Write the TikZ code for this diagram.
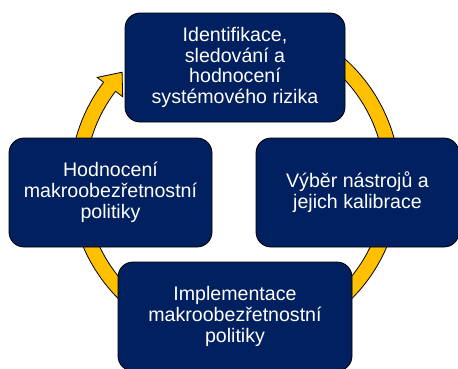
\documentclass[tikz,border=0pt]{standalone}
\usepackage{fontspec}
\setmainfont{Liberation Sans}
\definecolor{navy}{HTML}{002060}
\definecolor{gold}{HTML}{FFC000}
\begin{document}
\begin{tikzpicture}[x=1pt, y=1pt,
		stepbox/.style = {draw = black, line width = 0.8pt, fill = navy, rounded corners = 15pt,
			text = white, align = center, inner sep = 0pt,
			font = \fontsize{19.6}{20.8}\selectfont}]
		\useasboundingbox (0, 0) rectangle (458, 368);
		\clip (0, 0) rectangle (458, 368);

		% ring with arrow head
		\begin{scope}[shift = {(235, 186)}]
		\draw[fill = gold, line width = 0.8pt, line join = miter]
			(75:165pt) arc[start angle = 75, end angle = -217.2, radius = 165pt]
			-- (142.8:173pt) -- (135.8:157.5pt) -- (142.8:141pt) -- (142.8:150pt)
			arc[start angle = -217.2, end angle = 75, radius = 150pt] -- cycle;
		\end{scope}

		% boxes
		\node[stepbox, minimum width = 220pt, minimum height = 109pt] (ident) at (235, 300.5)
			{Identifikace,\\ sledování a\\ hodnocení\\ systémového rizika};
		\node[stepbox, minimum width = 203pt, minimum height = 109pt] (hodn) at (110.5, 175.5)
			{Hodnocení\\ makroobezřetnostní\\ politiky};
		\node[stepbox, minimum width = 203pt, minimum height = 109pt] (vyber) at (357.5, 175.5)
			{Výběr nástrojů a\\ jejich kalibrace};
		\node[stepbox, minimum width = 234pt, minimum height = 109pt] (impl) at (235, 51.5)
			{Implementace\\ makroobezřetnostní\\ politiky};

		\end{tikzpicture}
\end{document}
